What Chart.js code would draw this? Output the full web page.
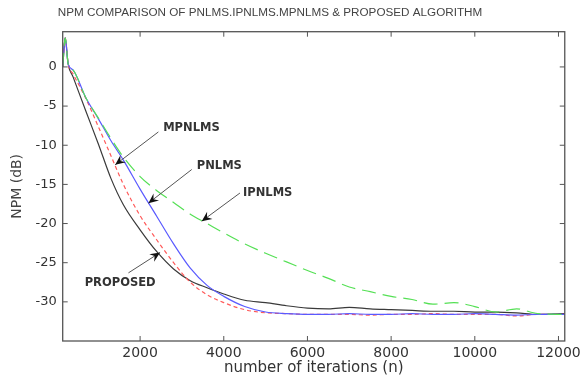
<!DOCTYPE html>
<html>
<head>
<meta charset="utf-8">
<script src="https://cdn.jsdelivr.net/npm/chart.js@4.4.0/dist/chart.umd.min.js"></script>
<style>
  html, body { margin: 0; padding: 0; background: #fff; }
  #wrap { width: 585px; height: 379px; }
</style>
</head>
<body>
<div id="wrap"><canvas id="npmChart" width="585" height="379"></canvas></div>
<script>
// Values (NPM in dB vs iteration)
const iterations = [150, 210, 280, 400, 700, 1000, 1300, 1600, 2000, 2400, 2800, 3200, 3600, 4000, 4500,
  5000, 5500, 6000, 6500, 7000, 7500, 8000, 8500, 9000, 9500, 10000, 10500, 11000, 11500, 12150];

const ipnlms = [0, 3.7, 0.4, -0.4, -3.9, -6.5, -9.1, -11.5, -14.0, -15.8, -17.3, -18.8, -20.0, -21.2, -22.6,
  -23.8, -24.9, -26.0, -27.0, -28.1, -28.7, -29.3, -29.7, -30.3, -30.1, -30.6, -31.3, -30.9, -31.5, -31.6];

const pnlms = [0, 3.7, 0.4, -0.4, -3.9, -6.6, -9.4, -11.9, -15.6, -19.1, -22.6, -25.7, -27.9, -29.3, -30.6,
  -31.3, -31.5, -31.6, -31.6, -31.5, -31.6, -31.6, -31.5, -31.6, -31.6, -31.5, -31.6, -31.7, -31.6, -31.6];

const mpnlms = [0, 3.7, 0.4, -0.9, -4.0, -7.6, -11.3, -15.0, -19.0, -22.1, -25.0, -27.5, -29.1, -30.1, -31.0,
  -31.4, -31.5, -31.6, -31.6, -31.6, -31.7, -31.6, -31.6, -31.5, -31.6, -31.6, -31.6, -31.8, -31.6, -31.6];

const proposed = [0, 3.7, 0.4, -1.3, -5.6, -9.8, -14.2, -17.6, -20.8, -23.6, -25.8, -27.3, -28.2, -29.0, -29.8,
  -30.1, -30.5, -30.8, -30.9, -30.7, -30.9, -31.0, -31.1, -31.2, -31.2, -31.3, -31.3, -31.4, -31.6, -31.5];

const xTicks = [2000, 4000, 6000, 8000, 10000, 12000];
const yTicks = [-30, -25, -20, -15, -10, -5, 0];

// Arrow labels, in data units: text anchor, arrow tail, arrow tip
const callouts = [
  { text: "MPNLMS", at: [2551, -7.8], from: [2437, -8.3], to: [1404, -12.5], align: "left" },
  { text: "PNLMS", at: [3354, -12.7], from: [3234, -13.1], to: [2198, -17.4], align: "left" },
  { text: "IPNLMS", at: [4459, -16.1], from: [4387, -16.1], to: [3473, -19.7], align: "left" },
  { text: "PROPOSED", at: [1523, -27.6], from: [1721, -26.3], to: [2478, -23.7], align: "center" },
];

const TITLE = "NPM COMPARISON OF PNLMS.IPNLMS.MPNLMS & PROPOSED ALGORITHM";

function toPoints(values) {
  return iterations.map((n, i) => ({ x: n, y: values[i] }));
}

function drawArrow(ctx, x1, y1, x2, y2) {
  ctx.strokeStyle = "#555";
  ctx.lineWidth = 1;
  ctx.beginPath();
  ctx.moveTo(x1, y1);
  ctx.lineTo(x2, y2);
  ctx.stroke();

  const ang = Math.atan2(y2 - y1, x2 - x1);
  const len = 10, half = 4.5;
  ctx.save();
  ctx.translate(x2, y2);
  ctx.rotate(ang);
  ctx.fillStyle = "#111";
  ctx.beginPath();
  ctx.moveTo(0, 0);
  ctx.lineTo(-len, -half);
  ctx.lineTo(-len * 0.65, 0);
  ctx.lineTo(-len, half);
  ctx.closePath();
  ctx.fill();
  ctx.restore();
}

// Matlab-style box, inward ticks, title and callouts
const figurePlugin = {
  id: "figure",
  afterDraw(chart) {
    const { ctx, chartArea: a, scales } = chart;
    const xs = scales.x, ys = scales.y;
    ctx.save();

    ctx.strokeStyle = "#555";
    ctx.lineWidth = 1.3;
    ctx.strokeRect(a.left, a.top, a.right - a.left, a.bottom - a.top);

    ctx.lineWidth = 1;
    ctx.beginPath();
    xTicks.forEach((v) => {
      const px = xs.getPixelForValue(v);
      ctx.moveTo(px, a.bottom);
      ctx.lineTo(px, a.bottom - 5);
      ctx.moveTo(px, a.top);
      ctx.lineTo(px, a.top + 5);
    });
    yTicks.forEach((v) => {
      const py = ys.getPixelForValue(v);
      ctx.moveTo(a.left, py);
      ctx.lineTo(a.left + 5, py);
      ctx.moveTo(a.right, py);
      ctx.lineTo(a.right - 5, py);
    });
    ctx.stroke();

    // title
    ctx.fillStyle = "#444";
    ctx.font = "11.7px 'Liberation Sans', Arial, sans-serif";
    ctx.textAlign = "center";
    ctx.textBaseline = "middle";
    ctx.fillText(TITLE, 270, 13);

    // callouts
    callouts.forEach((c) => {
      drawArrow(ctx,
        xs.getPixelForValue(c.from[0]), ys.getPixelForValue(c.from[1]),
        xs.getPixelForValue(c.to[0]), ys.getPixelForValue(c.to[1]));
      ctx.fillStyle = "#333";
      ctx.font = "bold 11.5px 'DejaVu Sans', sans-serif";
      ctx.textAlign = c.align;
      ctx.textBaseline = "middle";
      ctx.fillText(c.text, xs.getPixelForValue(c.at[0]), ys.getPixelForValue(c.at[1]));
    });

    ctx.restore();
  },
};

const lineStyle = {
  fill: false,
  pointRadius: 0,
  borderWidth: 1.2,
  cubicInterpolationMode: "monotone",
};

new Chart(document.getElementById("npmChart"), {
  type: "line",
  data: {
    datasets: [
      { ...lineStyle, label: "IPNLMS", data: toPoints(ipnlms), borderColor: "#55e055", borderDash: [14, 7] },
      { ...lineStyle, label: "PNLMS", data: toPoints(pnlms), borderColor: "#5a5aff" },
      { ...lineStyle, label: "MPNLMS", data: toPoints(mpnlms), borderColor: "#ff5a5a", borderDash: [4, 3] },
      { ...lineStyle, label: "PROPOSED", data: toPoints(proposed), borderColor: "#3a3a3a" },
    ],
  },
  options: {
    responsive: false,
    animation: false,
    events: [],
    layout: { padding: { top: 31.7, right: 20, left: 0, bottom: 0 } },
    plugins: {
      legend: { display: false },
      tooltip: { enabled: false },
      title: { display: false },
    },
    scales: {
      x: {
        type: "linear",
        min: 150,
        max: 12150,
        afterBuildTicks: (s) => { s.ticks = xTicks.map((v) => ({ value: v })); },
        afterFit: (s) => { s.height = 38; },
        grid: { display: false, drawTicks: false },
        border: { display: false },
        ticks: {
          color: "#333",
          padding: 4,
          maxRotation: 0,
          autoSkip: false,
          callback: (v) => String(v),
          font: { family: "'DejaVu Sans', sans-serif", size: 14 },
        },
        title: {
          display: true,
          text: "number of iterations (n)",
          color: "#333",
          padding: { top: 0, bottom: 2 },
          font: { family: "'DejaVu Sans', sans-serif", size: 15 },
        },
      },
      y: {
        min: -35,
        max: 4.5,
        afterBuildTicks: (s) => { s.ticks = yTicks.map((v) => ({ value: v })); },
        afterFit: (s) => { s.width = 62.7; },
        grid: { display: false, drawTicks: false },
        border: { display: false },
        ticks: {
          color: "#333",
          padding: 6,
          autoSkip: false,
          callback: (v) => String(v),
          font: { family: "'DejaVu Sans', sans-serif", size: 13 },
        },
        title: {
          display: true,
          text: "NPM (dB)",
          color: "#444",
          padding: { top: 9, bottom: 0 },
          font: { family: "'DejaVu Sans', sans-serif", size: 14 },
        },
      },
    },
  },
  plugins: [figurePlugin],
});
</script>
</body>
</html>
